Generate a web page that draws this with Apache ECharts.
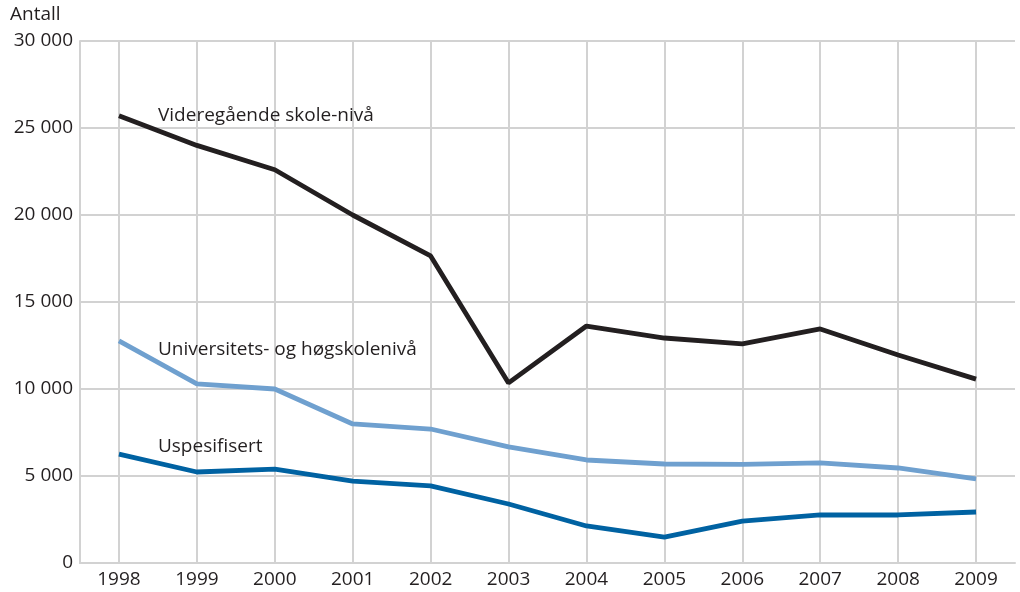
<!DOCTYPE html>
<html><head><meta charset="utf-8">
<script src="https://cdn.jsdelivr.net/npm/echarts@6/dist/echarts.min.js"></script>
<style>html,body{margin:0;padding:0;background:#fff}#c{width:1020px;height:592px}</style>
</head><body><div id="c"></div>
<script>
const years = ['1998','1999','2000','2001','2002','2003','2004','2005','2006','2007','2008','2009'];
const videregaende = [25700, 24000, 22600, 20000, 17650, 10350, 13620, 12930, 12590, 13450, 11950, 10570];
const universitet = [12760, 10290, 10000, 7990, 7700, 6670, 5920, 5690, 5670, 5750, 5460, 4830];
const uspesifisert = [6260, 5230, 5400, 4710, 4430, 3390, 2130, 1490, 2410, 2760, 2760, 2930];
const seriesNames = ['Videregående skole-nivå', 'Universitets- og høgskolenivå', 'Uspesifisert'];
const yTicks = [0, 5000, 10000, 15000, 20000, 25000, 30000];

const font = '"Open Sans", sans-serif';
const txt = '#231f20';
const fs = 19;
const chart = echarts.init(document.getElementById('c'), null, {renderer: 'canvas'});
function fmt(v){ return String(v).replace(/\B(?=(\d{3})+(?!\d))/g, ' '); }
function labelled(data, name, offset){
  return data.map((v, i) => i === 0 ? {value: v, label: {show: true, formatter: name, position: 'right', offset: offset,
    color: txt, fontFamily: font, fontSize: fs}} : v);
}
function line(data, name, color, offset){
  return {type: 'line', name: name, data: labelled(data, name, offset), symbol: 'circle', symbolSize: 0, showSymbol: true,
    lineStyle: {color: color, width: 4.8}, itemStyle: {color: color}};
}
chart.setOption({
  animation: false,
  graphic: [{type: 'text', left: 10, top: 5, style: {text: 'Antall', fill: txt, font: fs + 'px ' + font}}],
  grid: {left: 80, right: 5, top: 41, bottom: 29},
  xAxis: {
    type: 'category', data: years, boundaryGap: true,
    axisLine: {show: true, lineStyle: {color: '#d2d2d2', width: 2}},
    axisTick: {show: false},
    axisLabel: {color: txt, fontFamily: font, fontSize: fs, margin: 7},
    splitLine: {show: true, alignWithLabel: true, lineStyle: {color: '#d2d2d2', width: 2}}
  },
  yAxis: {
    type: 'value', min: yTicks[0], max: yTicks[yTicks.length-1], interval: 5000,
    axisLine: {show: true, lineStyle: {color: '#d2d2d2', width: 2}},
    axisTick: {show: false},
    axisLabel: {color: txt, fontFamily: font, fontSize: fs, margin: 7, formatter: fmt},
    splitLine: {show: true, lineStyle: {color: '#d2d2d2', width: 2}}
  },
  series: [
    line(videregaende, seriesNames[0], '#231f20', [34, 0]),
    line(universitet, seriesNames[1], '#6fa0cf', [34, 9]),
    line(uspesifisert, seriesNames[2], '#0062a2', [34, -7])
  ]
});
</script></body></html>
